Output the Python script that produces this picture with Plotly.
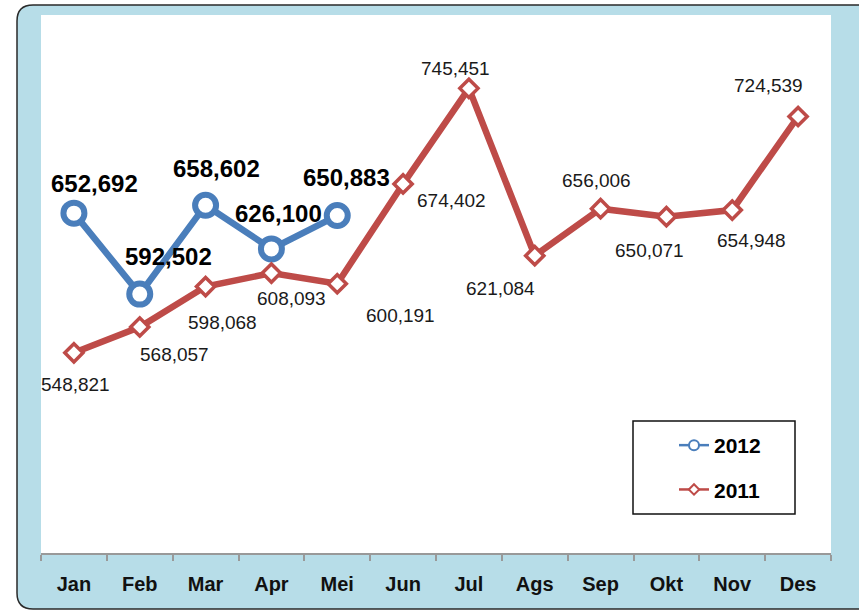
import plotly.graph_objects as go

months = ["Jan", "Feb", "Mar", "Apr", "Mei", "Jun", "Jul", "Ags", "Sep", "Okt", "Nov", "Des"]
sales_2012 = [652692, 592502, 658602, 626100, 650883]
sales_2011 = [548821, 568057, 598068, 608093, 600191, 674402, 745451,
              621084, 656006, 650071, 654948, 724539]

# label offsets in pixels (dx right, dy down) from each point
off_2012 = [(21, -30), (29, -38), (11, -37), (7, -35), (9, -38)]
off_2011 = [(2, 32), (35, 28), (17, 36), (20, 25), (63, 32), (48, 17),
            (-13, -20), (-34, 33), (-4, -28), (-17, 34), (19, 30), (-30, -31)]

BLUE = "#4A7EBB"
RED = "#BE4B48"
BG = "#B7DDE8"
FONT = "Liberation Sans, Arial, sans-serif"

W, H = 859, 611
L, R, T, B = 41, 28, 15, 58
PW, PH = W - L - R, H - T - B


def px(x):
    return (x - L) / PW


def py(y):
    return (H - B - y) / PH


def fmt(v):
    return f"{v:,}"


fig = go.Figure()

fig.add_trace(go.Scatter(
    x=months[:len(sales_2012)], y=sales_2012, mode="lines+markers",
    line=dict(color=BLUE, width=6.5),
    marker=dict(symbol="circle", size=21, color="white", line=dict(color=BLUE, width=6)),
    showlegend=False, cliponaxis=False))
fig.add_trace(go.Scatter(
    x=months, y=sales_2011, mode="lines+markers",
    line=dict(color=RED, width=6.5),
    marker=dict(symbol="diamond", size=14, color="white", line=dict(color=RED, width=3.5)),
    showlegend=False, cliponaxis=False))

# legend-only traces
fig.add_trace(go.Scatter(
    x=[None], y=[None], mode="lines+markers", name="2012", legendgroup="a",
    line=dict(color=BLUE, width=2.5),
    marker=dict(symbol="circle", size=10, color="white", line=dict(color=BLUE, width=2))))
fig.add_trace(go.Scatter(
    x=[None], y=[None], mode="lines+markers", name="2011", legendgroup="b",
    line=dict(color=RED, width=2.5),
    marker=dict(symbol="diamond", size=8, color="white", line=dict(color=RED, width=2))))

annotations = []
for m, v, (dx, dy) in zip(months, sales_2012, off_2012):
    annotations.append(dict(x=m, y=v, text=fmt(v), showarrow=False, xshift=dx, yshift=-dy,
                            font=dict(family=FONT, size=24, color="#000", weight="bold")))
for m, v, (dx, dy) in zip(months, sales_2011, off_2011):
    annotations.append(dict(x=m, y=v, text=fmt(v), showarrow=False, xshift=dx, yshift=-dy,
                            font=dict(family=FONT, size=19, color="#1a1a1a")))

# outer rounded panel
x0, x1, y0, y1, r = px(17), px(880), py(5), py(609), 16
rx, ry = r / PW, r / PH
path = (f"M {x0+rx},{y0} L {x1-rx},{y0} Q {x1},{y0} {x1},{y0-ry} "
        f"L {x1},{y1+ry} Q {x1},{y1} {x1-rx},{y1} L {x0+rx},{y1} "
        f"Q {x0},{y1} {x0},{y1+ry} L {x0},{y0-ry} Q {x0},{y0} {x0+rx},{y0} Z")
shapes = [
    dict(type="path", xref="paper", yref="paper", path=path, fillcolor=BG,
         line=dict(color="#2a2a2a", width=1.5), layer="below"),
    dict(type="rect", xref="paper", yref="paper", x0=0, x1=1, y0=0, y1=1,
         fillcolor="white", line=dict(width=0), layer="below"),
    dict(type="rect", xref="paper", yref="paper", x0=px(633), x1=px(795), y0=py(421), y1=py(514),
         fillcolor="white", line=dict(color="#111", width=1.5), layer="below"),
]

fig.update_layout(
    width=W, height=H, autosize=False,
    margin=dict(l=L, r=R, t=T, b=B),
    paper_bgcolor="white", plot_bgcolor="white",
    shapes=shapes, annotations=annotations,
    legend=dict(x=px(674), y=py(425), xanchor="left", yanchor="top",
                bgcolor="rgba(0,0,0,0)", borderwidth=0, traceorder="grouped",
                tracegroupgap=14,
                font=dict(family=FONT, size=21, color="#000", weight="bold")),
    xaxis=dict(type="category", categoryorder="array", categoryarray=months,
               range=[-0.5, len(months) - 0.5], tickson="boundaries",
               ticks="outside", ticklen=6, tickcolor="#999", tickwidth=1.5,
               showline=True, linecolor="#999", linewidth=1.5,
               showgrid=False, zeroline=False, ticklabelstandoff=12,
               tickfont=dict(family=FONT, size=20, color="#111", weight="bold")),
    yaxis=dict(range=[400000, 800000], visible=False, showgrid=False, zeroline=False),
)

fig.write_html("out.html", config={"displayModeBar": False},
               post_script="document.body.style.margin='0';document.body.style.overflow='hidden';")
